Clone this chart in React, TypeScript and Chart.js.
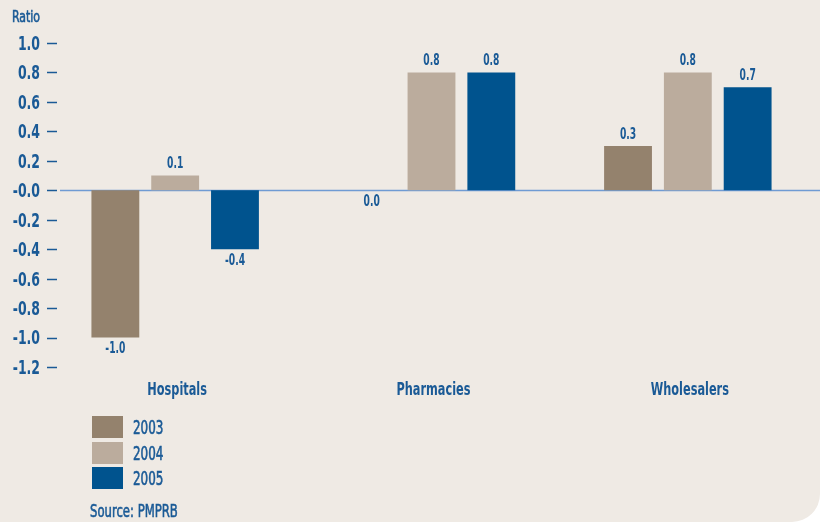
import React, { useEffect, useRef } from "react";
import { Chart, registerables } from "chart.js";

Chart.register(...registerables);

const categories = ["Hospitals", "Pharmacies", "Wholesalers"];
const seriesNames = ["2003", "2004", "2005"];
const values2003 = [-1.0, 0.0, 0.3];
const values2004 = [0.1, 0.8, 0.8];
const values2005 = [-0.4, 0.8, 0.7];
const seriesColors = ["#94826D", "#BBAC9D", "#00538E"];
const yMin = -1.2;
const yMax = 1.0;
const yStep = 0.2;
const axisTitle = "Ratio";
const sourceText = "Source: PMPRB";

const FONT = "'Liberation Sans Narrow', 'DejaVu Sans Condensed', 'Roboto Condensed', 'Arial Narrow', sans-serif";
const TEXT = "#1A5A96";
const BG = "#EFEAE4";
const ZERO_LINE = "#6F9BD3";

const fmtTick = (v: number) => (Math.abs(v) < 1e-9 ? "-0.0" : v.toFixed(1));

function drawNarrow(ctx: any, text: string, x: number, y: number, sx: number) {
  ctx.save();
  ctx.translate(x, y);
  ctx.scale(sx, 1);
  ctx.fillText(text, 0, 0);
  ctx.restore();
}

const decorPlugin = {
  id: "decor",
  beforeDatasetsDraw(chart: any) {
    const { ctx, chartArea } = chart;
    const y = chart.scales.y;
    const x = chart.scales.x;
    ctx.save();
    // tick dashes
    ctx.strokeStyle = TEXT;
    ctx.lineWidth = 1.5;
    y.ticks.forEach((_t: any, i: number) => {
      const py = Math.round(y.getPixelForTick(i)) + 0.5;
      ctx.beginPath();
      ctx.moveTo(chartArea.left, py);
      ctx.lineTo(chartArea.left + 10, py);
      ctx.stroke();
    });
    // y tick labels
    ctx.fillStyle = TEXT;
    ctx.font = `bold 19px ${FONT}`;
    ctx.textAlign = "right";
    ctx.textBaseline = "middle";
    y.ticks.forEach((t: any, i: number) => {
      const py = y.getPixelForTick(i) + 2;
      drawNarrow(ctx, fmtTick(t.value), chartArea.left - 7, py, 0.73);
    });
    // x labels
    ctx.font = `bold 17px ${FONT}`;
    ctx.textAlign = "center";
    x.ticks.forEach((_t: any, i: number) => {
      const px = x.getPixelForTick(i) + 2;
      drawNarrow(ctx, String(chart.data.labels[i]), px, chartArea.bottom + 24, 0.74);
    });
    // zero line
    const y0 = Math.round(y.getPixelForValue(0)) + 0.5;
    ctx.strokeStyle = ZERO_LINE;
    ctx.lineWidth = 1.5;
    ctx.beginPath();
    ctx.moveTo(chartArea.left + 13, y0);
    ctx.lineTo(chart.width, y0);
    ctx.stroke();
    ctx.restore();
  },
  afterDatasetsDraw(chart: any) {
    const { ctx } = chart;
    ctx.save();
    ctx.fillStyle = TEXT;
    ctx.font = `bold 15px ${FONT}`;
    ctx.textAlign = "center";
    ctx.textBaseline = "middle";
    chart.data.datasets.forEach((ds: any, di: number) => {
      const meta = chart.getDatasetMeta(di);
      meta.data.forEach((el: any, i: number) => {
        const v = ds.data[i];
        const label = v.toFixed(1);
        const yy = v > 0 ? el.y - 11 : el.y + 12;
        drawNarrow(ctx, label, el.x, yy, 0.68);
      });
    });
    ctx.restore();
  },
};

export default function App() {
  const ref = useRef<HTMLCanvasElement>(null);

  useEffect(() => {
    document.body.style.margin = "0";
    const canvas = ref.current;
    if (!canvas) return;
    const chart = new Chart(canvas, {
      type: "bar",
      data: {
        labels: categories,
        datasets: [values2003, values2004, values2005].map((d, i) => ({
          label: seriesNames[i],
          data: d,
          backgroundColor: seriesColors[i],
          borderWidth: 0,
          categoryPercentage: 0.7,
          barPercentage: 0.8,
        })),
      },
      options: {
        animation: false,
        responsive: false,
        devicePixelRatio: 1,
        layout: { padding: { top: 43, right: 4, bottom: 115, left: 0 } },
        plugins: {
          legend: { display: false },
          tooltip: { enabled: false },
        },
        scales: {
          x: {
            grid: { display: false, drawTicks: false },
            border: { display: false },
            ticks: { display: false },
            afterFit: (s: any) => {
              s.height = 40;
            },
          },
          y: {
            min: yMin,
            max: yMax,
            grid: { display: false, drawTicks: false },
            border: { display: false },
            ticks: {
              display: false,
              stepSize: yStep,
              callback: (v: any) => fmtTick(Number(v)),
            },
            afterFit: (s: any) => {
              s.width = 47;
            },
          },
        },
      },
      plugins: [decorPlugin],
    });
    return () => chart.destroy();
  }, []);

  const narrow = (sx: number): React.CSSProperties => ({
    transform: `scaleX(${sx})`,
    transformOrigin: "left center",
    whiteSpace: "nowrap",
    WebkitTextStroke: `0.6px ${TEXT}`,
  });

  return (
    <div
      style={{
        position: "relative",
        width: 820,
        height: 522,
        background: BG,
        borderBottomRightRadius: 28,
        overflow: "hidden",
        fontFamily: FONT,
        color: TEXT,
      }}
    >
      <canvas ref={ref} width={820} height={522} style={{ display: "block" }} />
      <div style={{ position: "absolute", left: 12, top: 7, fontSize: 16, lineHeight: "20px", ...narrow(0.76) }}>{axisTitle}</div>
      {seriesNames.map((n, i) => (
        <div key={n} style={{ position: "absolute", left: 92, top: 416 + i * 25.5, height: 22, display: "flex", alignItems: "center" }}>
          <div style={{ width: 31, height: 22, background: seriesColors[i], flex: "none" }} />
          <div style={{ marginLeft: 10, fontSize: 19, lineHeight: "22px", ...narrow(0.7) }}>{n}</div>
        </div>
      ))}
      <div style={{ position: "absolute", left: 90, top: 500, fontSize: 18, lineHeight: "22px", ...narrow(0.72) }}>{sourceText}</div>
    </div>
  );
}
